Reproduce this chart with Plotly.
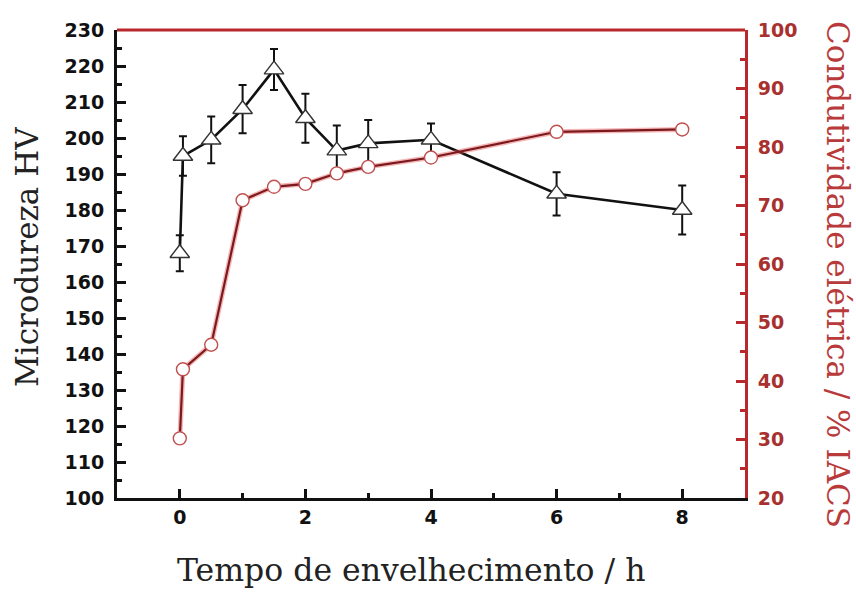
import plotly.graph_objects as go

# Aging time (h)
tempo = [0, 0.05, 0.5, 1, 1.5, 2, 2.5, 3, 4, 6, 8]
# Vickers microhardness (HV) and its error
dureza = [168, 195, 199.5, 208, 219, 205.5, 196.5, 198.5, 199.5, 184.5, 180]
dureza_err = [5, 5.5, 6.5, 6.7, 5.7, 6.8, 7, 6.5, 4.5, 6, 6.8]
# Electrical conductivity (% IACS)
condutividade = [30.2, 42, 46.2, 70.9, 73.2, 73.7, 75.5, 76.6, 78.2, 82.6, 83.0]

BLACK = "#111111"
RED = "#b8282c"
TICK_FONT = dict(family="DejaVu Sans", size=19, color=BLACK, weight="bold")
TITLE_FAMILY = "DejaVu Serif"

fig = go.Figure()

fig.add_trace(go.Scatter(
    x=tempo, y=dureza, mode="lines+markers",
    line=dict(color=BLACK, width=2.6),
    marker=dict(symbol="triangle-up", size=17, color="white",
                line=dict(color="#333333", width=1.4)),
    error_y=dict(type="data", array=dureza_err, color=BLACK,
                 thickness=2, width=4),
    yaxis="y", showlegend=False,
))

# soft halo under the conductivity line
fig.add_trace(go.Scatter(
    x=tempo, y=condutividade, mode="lines",
    line=dict(color="rgba(235,90,90,0.45)", width=5),
    yaxis="y2", showlegend=False, hoverinfo="skip",
))
fig.add_trace(go.Scatter(
    x=tempo, y=condutividade, mode="lines+markers",
    line=dict(color="#7a1a1e", width=2.2),
    marker=dict(symbol="circle", size=13, color="white",
                line=dict(color="#c0504f", width=1.4)),
    yaxis="y2", showlegend=False,
))

fig.update_layout(
    width=856, height=597,
    margin=dict(l=117, r=111, t=30, b=99),
    paper_bgcolor="white", plot_bgcolor="white",
    xaxis=dict(
        range=[-1, 9], tickvals=[0, 2, 4, 6, 8],
        ticks="inside", ticklen=9, tickwidth=2.5, tickcolor=BLACK,
        minor=dict(tickvals=[1, 3, 5, 7], ticks="inside", ticklen=5,
                   tickwidth=2.5, tickcolor=BLACK),
        showline=True, linecolor=BLACK, linewidth=3,
        showgrid=False, zeroline=False, tickfont=TICK_FONT,
    ),
    yaxis=dict(
        range=[100, 230], dtick=10, tick0=100,
        ticks="inside", ticklen=9, tickwidth=2.5, tickcolor=BLACK,
        minor=dict(dtick=5, ticks="inside", ticklen=5, tickwidth=2.5,
                   tickcolor=BLACK),
        showline=True, linecolor=BLACK, linewidth=3,
        showgrid=False, zeroline=False, tickfont=TICK_FONT,
        ticklabelstandoff=6,
    ),
    yaxis2=dict(
        range=[20, 100], dtick=10, tick0=20, overlaying="y", side="right",
        ticks="inside", ticklen=9, tickwidth=2.5, tickcolor=RED,
        minor=dict(dtick=5, ticks="inside", ticklen=5, tickwidth=2.5,
                   tickcolor=RED),
        showline=True, linecolor=RED, linewidth=3,
        showgrid=False, zeroline=False,
        tickfont=dict(family="DejaVu Sans", size=19, color="#a8302e",
                      weight="bold"),
        ticklabelstandoff=6,
    ),
    shapes=[dict(type="line", xref="paper", yref="paper", x0=0, x1=1,
                 y0=1, y1=1, line=dict(color=RED, width=3))],
    annotations=[
        dict(text="Tempo de envelhecimento / h", xref="paper", yref="paper",
             x=(411 - 117) / 628, y=-(570 - 498) / 468,
             xanchor="center", yanchor="middle", showarrow=False,
             font=dict(family=TITLE_FAMILY, size=31.5, color="#222222")),
        dict(text="Microdureza HV", xref="paper", yref="paper",
             x=-(117 - 27) / 628, y=(498 - 257) / 468,
             xanchor="center", yanchor="middle",
             textangle=-90, showarrow=False,
             font=dict(family=TITLE_FAMILY, size=31, color="#222222")),
        dict(text="Condutividade elétrica / % IACS", xref="paper", yref="paper",
             x=1 + (838 - 745) / 628, y=(498 - 274) / 468,
             xanchor="center", yanchor="middle",
             textangle=90, showarrow=False,
             font=dict(family=TITLE_FAMILY, size=31, color="#b83a3a")),
    ],
)

fig.write_html("out.html")
